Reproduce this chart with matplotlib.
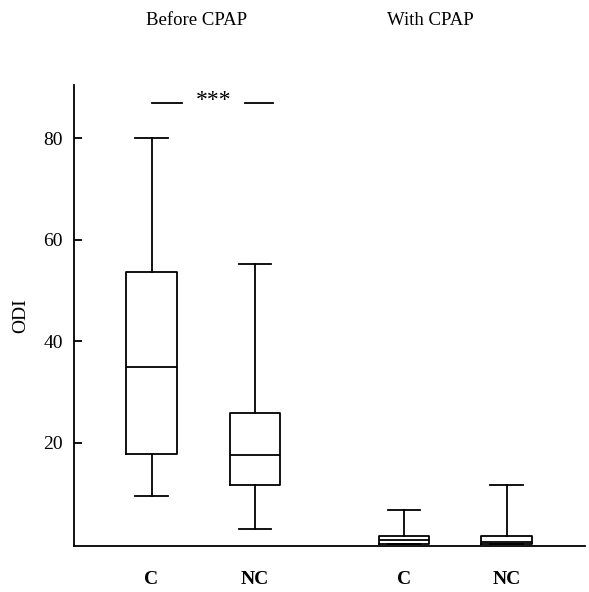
import matplotlib.pyplot as plt

plt.rcParams['font.family'] = ['Liberation Serif', 'DejaVu Serif']

labels = ['C', 'NC', 'C', 'NC']
whis_lo = [9.6, 3.0, 0.0, 0.0]
q1 = [17.8, 11.8, 0.0, 0.0]
med = [34.9, 17.7, 0.8, 0.5]
q3 = [53.6, 25.8, 1.6, 1.6]
whis_hi = [80.0, 55.3, 6.7, 11.8]
groups = ['Before CPAP', 'With CPAP']
sig_text = '***'
sig_level = 87

positions = [1, 2, 3.44, 4.43]

stats = []
for i in range(len(labels)):
    stats.append({'med': med[i], 'q1': q1[i], 'q3': q3[i],
                  'whislo': whis_lo[i], 'whishi': whis_hi[i], 'label': labels[i]})

fig = plt.figure(figsize=(5.89, 5.92), dpi=100)
ax = fig.add_axes([0.1256, 0.0777, 0.8676, 0.7787])

lp = dict(color='black', linewidth=1.3)
ax.bxp(stats, positions=positions, widths=0.49, showfliers=False,
       boxprops=lp, whiskerprops=lp, capprops=lp, medianprops=lp,
       capwidths=0.31)

ax.set_xlim(0.251, 5.188)
ax.set_ylim(-0.3, 90.5)
ax.set_yticks([20, 40, 60, 80])
ax.tick_params(axis='y', direction='in', length=6, width=1.3, labelsize=14, pad=8)
ax.tick_params(axis='x', length=0, labelsize=14, pad=18)
for t in ax.get_xticklabels():
    t.set_fontweight('bold')
ax.spines['top'].set_visible(False)
ax.spines['right'].set_visible(False)
ax.spines['left'].set_linewidth(1.3)
ax.spines['bottom'].set_linewidth(1.3)
ax.set_ylabel('ODI', fontsize=14, labelpad=10)

# significance marker
ax.plot([1.0, 1.29], [sig_level, sig_level], color='black', lw=1.3, clip_on=False)
ax.plot([1.9, 2.17], [sig_level, sig_level], color='black', lw=1.3, clip_on=False)
ax.text(1.6, sig_level + 0.4, sig_text, ha='center', va='center', fontsize=17)

fig.text(197 / 589, 0.965, groups[0], ha='center', va='center', fontsize=13.5)
fig.text(430 / 589, 0.965, groups[1], ha='center', va='center', fontsize=13.5)

fig.savefig('out.png', dpi=100)
